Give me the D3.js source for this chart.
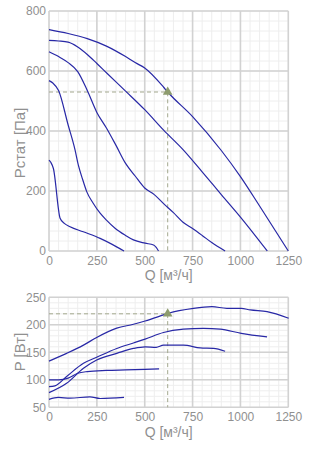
<!DOCTYPE html>
<html><head><meta charset="utf-8">
<script src="https://cdn.jsdelivr.net/npm/d3@7"></script>
<style>
html,body{margin:0;padding:0;background:#fff;}
svg{display:block;font-family:"Liberation Sans",Arial,sans-serif;}
</style></head>
<body><svg id="c" width="330" height="450"></svg>
<script>
// ---- data ----
const xTicks = [0, 250, 500, 750, 1000, 1250];
const pTicks = [0, 200, 400, 600, 800];
const wTicks = [50, 100, 150, 200, 250];

const q1 = [0,100,200,300,400,450,500,600,620,750,900,1000,1100,1250];
const p1 = [738,725,708,683,648,628,610,545,530,448,335,248,150,0];
const q2 = [0,50,100,150,200,250,300,400,500,600,700,800,900,1000,1140];
const p2 = [702,700,696,680,655,625,594,533,471,402,338,264,188,113,0];
const q3 = [0,50,100,150,200,250,300,350,400,450,500,550,600,650,700,750,800,850,920];
const p3 = [664,648,628,598,535,462,410,352,292,250,210,188,157,128,96,75,52,28,0];
const q4 = [0,20,50,100,136,153,175,197,230,267,300,345,400,441,502,546,560,572];
const p4 = [568,560,535,420,337,287,240,198,160,126,103,76,52,37,26,20,12,0];
const q5 = [0,10,23,58,80,110,179,267,330,392];
const p5 = [303,295,275,109,92,81,64,42,22,0];

const wq1 = [0,92,180,249,354,441,502,598,624,755,851,929,1004,1051,1139,1252];
const w1  = [134,148,163,177,194,201,207,218,221,230,233,230,230,227,224,212];
const wq2 = [0,31,92,180,249,354,441,502,598,702,807,894,1004,1139];
const w2  = [87.5,89,106,130,141,157,167,174,186,192,193.6,192,184.5,178];
const wq3 = [0,92,180,249,354,441,502,560,598,702,790,859,920];
const w3  = [76.6,93.6,121,136,148,157,160,159,163,163,158,157,152];
const wq4 = [0,50,100,150,200,300,400,500,575];
const w4  = [100,100,103,112,115,117,118,119,120];
const wq5 = [0,49,110,214,267,392];
const w5  = [64.5,68,66.6,69,66,68];

const opQ = 620, opP = 530, opW = 220;

// ---- drawing ----
const svg = d3.select("#c");
const X0 = 49, X1 = 288.3;
const lineColor = "#2828a6", gridMajor = "#d2d2d2", gridMinor = "#eeeeee", tickColor = "#909090";
const guideColor = "#a3a88e", markColor = "#8e9c6e";
const fmt = d3.format("d");

function panel(y0, y1, yDomain, yTicksMajor, yMinorStep, curves, opY, yTitle, titleY, qTitleY){
  const x = d3.scaleLinear().domain([0,1250]).range([X0,X1]);
  const y = d3.scaleLinear().domain(yDomain).range([y1,y0]);
  const g = svg.append("g");
  // minor grid
  g.append("g").selectAll("line").data(d3.range(0,1250.1,50)).join("line")
    .attr("x1",d=>x(d)).attr("x2",d=>x(d)).attr("y1",y0).attr("y2",y1)
    .attr("stroke",gridMinor).attr("stroke-width",1);
  const ym = [];
  for(let v=yDomain[0]; v<=yDomain[1]+1e-6; v+=yMinorStep) ym.push(v);
  g.append("g").selectAll("line").data(ym).join("line")
    .attr("x1",X0).attr("x2",X1).attr("y1",d=>y(d)).attr("y2",d=>y(d))
    .attr("stroke",gridMinor).attr("stroke-width",1);
  // major grid
  g.append("g").selectAll("line").data(xTicks).join("line")
    .attr("x1",d=>x(d)).attr("x2",d=>x(d)).attr("y1",y0).attr("y2",y1)
    .attr("stroke",gridMajor).attr("stroke-width",1.6);
  g.append("g").selectAll("line").data(yTicksMajor).join("line")
    .attr("x1",X0).attr("x2",X1).attr("y1",d=>y(d)).attr("y2",d=>y(d))
    .attr("stroke",gridMajor).attr("stroke-width",1.6);
  // axes tick labels
  const xa = d3.axisBottom(x).tickValues(xTicks).tickFormat(fmt).tickSize(0).tickPadding(5);
  const xg = g.append("g").attr("transform",`translate(0,${y1})`).call(xa);
  xg.select(".domain").remove();
  xg.selectAll("text").attr("fill",tickColor).style("font-size","12px").style("font-family","'Liberation Sans',Arial,sans-serif");
  const ya = d3.axisLeft(y).tickValues(yTicksMajor).tickFormat(fmt).tickSize(0).tickPadding(3);
  const yg = g.append("g").attr("transform",`translate(${X0},0)`).call(ya);
  yg.select(".domain").remove();
  yg.selectAll("text").attr("fill",tickColor).style("font-size","12px").style("font-family","'Liberation Sans',Arial,sans-serif");
  // titles
  g.append("text").attr("x",(X0+X1)/2).attr("y",qTitleY).attr("text-anchor","middle")
    .attr("fill",tickColor).style("font-size","14px").text("Q [м³/ч]");
  g.append("text").attr("transform",`translate(25,${titleY}) rotate(-90)`).attr("text-anchor","middle")
    .attr("fill",tickColor).style("font-size","15px").text(yTitle);
  // guides
  g.append("path").attr("d",`M${x(0)},${y(opY)}H${x(opQ)}V${y1}`)
    .attr("fill","none").attr("stroke",guideColor).attr("stroke-width",1).attr("stroke-dasharray","4,3");
  // curves
  const line = d3.line().x(d=>x(d[0])).y(d=>y(d[1])).curve(d3.curveMonotoneX);
  curves.forEach(([qs,ps])=>{
    g.append("path").attr("d",line(qs.map((q,i)=>[q,ps[i]])))
      .attr("fill","none").attr("stroke",lineColor).attr("stroke-width",1.2);
  });
  // marker
  g.append("path").attr("d",d3.symbol(d3.symbolTriangle,40)())
    .attr("transform",`translate(${x(opQ)},${y(opY)})`).attr("fill",markColor);
}

panel(11, 251, [0,800], pTicks, 200/6,
  [[q1,p1],[q2,p2],[q3,p3],[q4,p4],[q5,p5]], opP, "Pстат [Па]", 143, 280);
panel(297.3, 407.3, [50,250], wTicks, 10,
  [[wq1,w1],[wq2,w2],[wq3,w3],[wq4,w4],[wq5,w5]], opW, "P [Вт]", 352, 437);
</script></body></html>
